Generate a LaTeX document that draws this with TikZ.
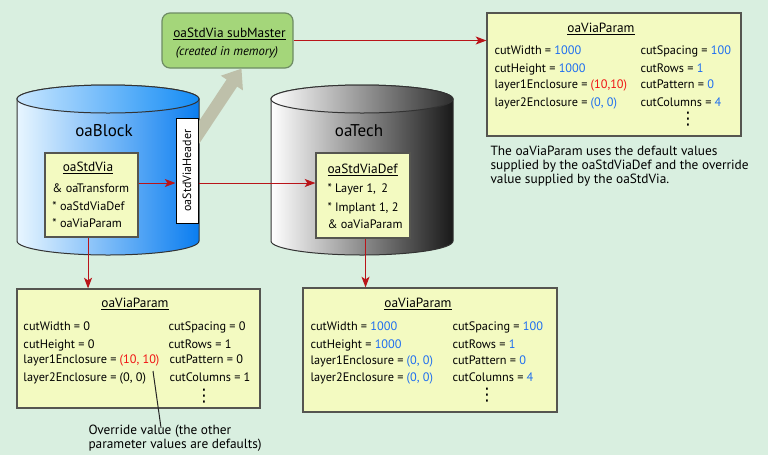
\documentclass[tikz,border=0pt]{standalone}
\usepackage{fontspec}
\setmainfont{PT Sans}
\newfontfamily\dotsfont{DejaVu Sans}
\usepackage{graphicx}
\usepackage{tikz}
\usetikzlibrary{arrows.meta,calc}
\tikzset{every picture/.style={line width=0.75pt}}

\definecolor{bgmint}{RGB}{217,239,224}
\definecolor{paramyellow}{RGB}{243,250,193}
\definecolor{boxedge}{RGB}{85,85,80}
\definecolor{subgreen}{RGB}{164,214,122}
\definecolor{subedge}{RGB}{110,140,100}
\definecolor{linkred}{RGB}{185,20,25}
\definecolor{valblue}{RGB}{30,110,240}
\definecolor{valred}{RGB}{240,20,20}
\definecolor{headgray}{RGB}{190,192,170}
\definecolor{blockL}{RGB}{232,246,255}
\definecolor{blockM}{RGB}{115,195,252}
\definecolor{blockR}{RGB}{10,125,240}
\definecolor{blocktopL}{RGB}{200,230,255}
\definecolor{blocktopM}{RGB}{120,200,255}
\definecolor{blocktopR}{RGB}{20,140,245}
\definecolor{techM}{RGB}{212,212,212}
\definecolor{techR}{RGB}{25,25,25}
\definecolor{techtopM}{RGB}{180,180,180}
\definecolor{techtopR}{RGB}{45,45,45}

\tikzset{
  parambox/.style={draw=boxedge, fill=paramyellow, inner sep=0pt, line width=0.9pt},
  subbox/.style={draw=subedge, fill=subgreen, rounded corners=6pt, inner sep=0pt, line width=0.9pt},
  hdrbox/.style={draw=black, fill=white, inner sep=0pt, line width=0.75pt, font=\fontsize{9}{11}\selectfont},
  rowtext/.style={anchor=base west, inner sep=0pt, font=\fontsize{9.2}{11}\selectfont},
  titletext/.style={anchor=base, inner sep=0pt, font=\fontsize{10}{12}\selectfont},
  dbtext/.style={anchor=center, inner sep=0pt, font=\fontsize{12.75}{14}\selectfont},
  notetext/.style={anchor=north west, inner sep=0pt, align=left, font=\fontsize{10}{10.5}\selectfont},
  moredots/.style={anchor=center, inner sep=0pt, font=\dotsfont\fontsize{13}{13}\selectfont},
  link/.style={draw=linkred, line width=0.75pt, -{Stealth[length=8pt,width=6pt,inset=2pt]}},
}
\newcommand{\bv}[1]{\textcolor{valblue}{#1}}
\newcommand{\rv}[1]{\textcolor{valred}{#1}}

\begin{document}
\begin{tikzpicture}[x=0.75pt,y=0.75pt,yscale=-1,xscale=1]
%background
\fill[bgmint] (0,0) rectangle (768,455);
\useasboundingbox (0,0) rectangle (768,455);

%oaBlock cylinder
\draw[draw=black!80, left color=blockL, middle color=blockM, right color=blockR] (17,99) -- (17,241) arc[start angle=180, end angle=0, x radius=91, y radius=14] -- (199,99) arc[start angle=0, end angle=-180, x radius=91, y radius=14] -- cycle;
\draw[draw=black!80, left color=blocktopL, middle color=blocktopM, right color=blocktopR] (108,99) ellipse [x radius=91, y radius=14];
\node[dbtext] (blocklabel) at (104,131) {oaBlock};

%oaTech cylinder
\draw[draw=black!80, left color=white, middle color=techM, right color=techR] (271,99) -- (271,241) arc[start angle=180, end angle=0, x radius=91, y radius=14] -- (453,99) arc[start angle=0, end angle=-180, x radius=91, y radius=14] -- cycle;
\draw[draw=black!80, left color=white, middle color=techtopM, right color=techtopR] (362,99) ellipse [x radius=91, y radius=14];
\node[dbtext] (techlabel) at (359,131) {oaTech};

%subMaster box
\node[subbox, minimum width=98.25pt, minimum height=41.25pt] (submaster) at (227.5,40.5) {};
\node[titletext] (subtitle) at (229.5,37) {\underline{oaStdVia subMaster}};
\node[titletext, font=\fontsize{9.5}{11}\selectfont\itshape] (subnote) at (227,55) {(created in memory)};

%header arrow, behind the header box
\node[hdrbox, minimum width=16.5pt, minimum height=78.75pt] (header) at (187,170.5) {};
\draw[headgray, line width=9.5pt, -{Triangle[length=13pt,width=19pt]}] ([yshift=-15pt]header.center) -- ([xshift=10.5pt]submaster.south);
\node[hdrbox, minimum width=16.5pt, minimum height=78.75pt] at (header.center) {\rotatebox{90}{oaStdViaHeader}};

%oaStdVia box
\node[parambox, minimum width=69.75pt, minimum height=63pt] (stdvia) at (91.5,195) {};
\node[titletext] (stdviatitle) at (88,171) {\underline{oaStdVia}};
\node[rowtext] (stdvia1) at (52,192) {\& oaTransform};
\node[rowtext] (stdvia2) at (52,210) {* oaStdViaDef};
\node[rowtext] (stdvia3) at (52,227) {* oaViaParam};

%oaStdViaDef box
\node[parambox, minimum width=70.5pt, minimum height=63.75pt] (stdviadef) at (363,195.5) {};
\node[rowtext, font=\fontsize{10}{12}\selectfont] (defstitle) at (327,173) {\underline{oaStdViaDef}};
\node[rowtext] (defs1) at (327,192) {* Layer 1,\, 2};
\node[rowtext] (defs2) at (327,211) {* Implant 1, 2};
\node[rowtext] (defs3) at (327,228) {\& oaViaParam};

%oaViaParam of the subMaster
\node[parambox, minimum width=190.5pt, minimum height=92.25pt] (paramtop) at (614,74.5) {};
\node[titletext] (toptitle) at (601,32) {\underline{oaViaParam}};
\node[rowtext] (top1) at (494,54) {cutWidth = \bv{1000}};
\node[rowtext] (top2) at (494,72) {cutHeight = \bv{1000}};
\node[rowtext] (top3) at (494,88) {layer1Enclosure = \rv{(10,10)}};
\node[rowtext] (top4) at (494,106) {layer2Enclosure = \bv{(0, 0)}};
\node[rowtext] (top5) at (640,54) {cutSpacing = \bv{100}};
\node[rowtext] (top6) at (640,72) {cutRows = \bv{1}};
\node[rowtext] (top7) at (640,88) {cutPattern = \bv{0}};
\node[rowtext] (top8) at (640,106) {cutColumns = \bv{4}};
\node[moredots] (topdots) at (688,119) {⋮};
\node[notetext] (topnote) at (490,146) {The oaViaParam uses the default values\\supplied by the oaStdViaDef and the override\\value supplied by the oaStdVia.};

%oaViaParam of oaBlock
\node[parambox, minimum width=182.25pt, minimum height=89.25pt] (paramblock) at (138.5,348.5) {};
\node[titletext] (blocktitle) at (135,307) {\underline{oaViaParam}};
\node[rowtext] (block1) at (23,330) {cutWidth = 0};
\node[rowtext] (block2) at (23,348) {cutHeight = 0};
\node[rowtext] (block3) at (23,363) {layer1Enclosure = \rv{(10, 10)}};
\node[rowtext] (block4) at (23,381) {layer2Enclosure = (0, 0)};
\node[rowtext] (block5) at (168,330) {cutSpacing = 0};
\node[rowtext] (block6) at (168,348) {cutRows = 1};
\node[rowtext] (block7) at (169,363) {cutPattern = 0};
\node[rowtext] (block8) at (169,381) {cutColumns = 1};
\node[moredots] (blockdots) at (204,396) {⋮};

%oaViaParam of oaTech
\node[parambox, minimum width=190.5pt, minimum height=93pt] (paramtech) at (430,350) {};
\node[titletext] (techtitle) at (418,307) {\underline{oaViaParam}};
\node[rowtext] (tech1) at (310,330) {cutWidth = \bv{1000}};
\node[rowtext] (tech2) at (310,348) {cutHeight = \bv{1000}};
\node[rowtext] (tech3) at (310,364) {layer1Enclosure = \bv{(0, 0)}};
\node[rowtext] (tech4) at (310,381) {layer2Enclosure = \bv{(0, 0)}};
\node[rowtext] (tech5) at (452,330) {cutSpacing = \bv{100}};
\node[rowtext] (tech6) at (452,348) {cutRows = \bv{1}};
\node[rowtext] (tech7) at (452,364) {cutPattern = \bv{0}};
\node[rowtext] (tech8) at (452,381) {cutColumns = \bv{4}};
\node[moredots] (techdots) at (487,395) {⋮};

%override note
\node[notetext] (overridenote) at (88,424) {Override value (the other\\parameter values are defaults)};
\coordinate (ovrtip) at (153,371);
\draw[black!85] (ovrtip) -- ([xshift=-10.5pt,yshift=3pt]overridenote.north);

%links
\draw[link] (submaster.east) -- (submaster.east -| paramtop.west);
\draw[link] ([yshift=-9pt]stdvia.east) -- ([yshift=-9pt]stdvia.east -| header.west);
\draw[link] ([yshift=-9pt]stdvia.east -| header.east) -- ([yshift=-9pt]stdvia.east -| stdviadef.west);
\draw[link] ([xshift=-2.6pt]stdvia.south) -- ([xshift=-2.6pt]stdvia.south |- paramblock.north);
\draw[link] ([xshift=1.9pt]stdviadef.south) -- ([xshift=1.9pt]stdviadef.south |- paramtech.north);
\end{tikzpicture}
\end{document}
